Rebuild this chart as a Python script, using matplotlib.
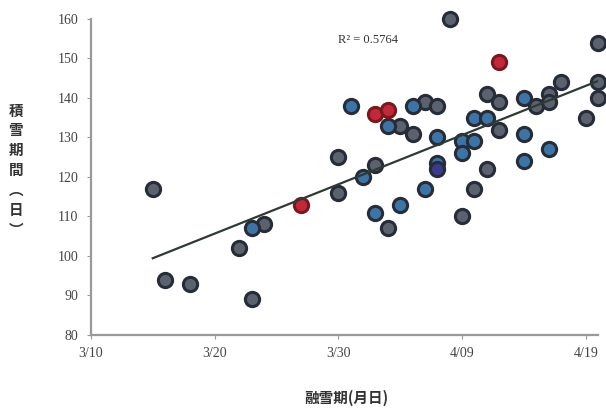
import numpy as np
import matplotlib
matplotlib.use("Agg")
import matplotlib.pyplot as plt

# days since 3/10 (melt date) and snow-cover duration (days)
dark_x = [5, 6, 8, 12, 14, 13, 20, 20, 23, 24, 25, 26, 27, 28, 29, 30, 31, 32, 32, 33, 33, 36, 37, 37, 38, 40, 41, 41, 41]
dark_y = [117, 94, 93, 102, 108, 89, 125, 116, 123, 107, 133, 131, 139, 138, 160, 110, 117, 141, 122, 132, 139, 138, 141, 139, 144, 135, 154, 144, 140]
blue_x = [13, 21, 22, 23, 24, 25, 26, 27, 28, 28, 30, 30, 31, 31, 32, 35, 35, 35, 37]
blue_y = [107, 138, 120, 111, 133, 113, 138, 117, 130, 123.5, 129, 126, 129, 135, 135, 140, 131, 124, 127]
red_x = [17, 23, 24, 33]
red_y = [113, 136, 137, 149]
purple_x = [28]
purple_y = [122]

xticks = [0, 10, 20, 30, 40]
xtick_labels = ["3/10", "3/20", "3/30", "4/09", "4/19"]
yticks = [80, 90, 100, 110, 120, 130, 140, 150, 160]
r2_text = "R² = 0.5764"

plt.rcParams['font.family'] = ['Noto Sans CJK JP', 'DejaVu Sans']

fig = plt.figure(figsize=(6.06, 4.12), dpi=100)
ax = fig.add_axes([0.150, 0.187, 0.837, 0.767])

edge = '#262c38'
ax.scatter(dark_x, dark_y, s=105, c='#5c626d', edgecolors=edge, linewidths=2.2, zorder=3, clip_on=False)
ax.scatter(blue_x, blue_y, s=105, c='#3d74a6', edgecolors=edge, linewidths=2.2, zorder=3, clip_on=False)
ax.scatter(purple_x, purple_y, s=105, c='#3b3a8c', edgecolors=edge, linewidths=2.2, zorder=3, clip_on=False)
ax.scatter(red_x, red_y, s=105, c='#c2283a', edgecolors='#7a1820', linewidths=2.2, zorder=3, clip_on=False)

# linear trendline over all points
all_x = np.array(dark_x + blue_x + red_x + purple_x, dtype=float)
all_y = np.array(dark_y + blue_y + red_y + purple_y, dtype=float)
k, b = np.polyfit(all_x, all_y, 1)
lx = np.array([all_x.min(), all_x.max()])
ax.plot(lx, k * lx + b, color='#2f3a33', lw=1.6, zorder=4)

ax.text(20, 154, r2_text, fontsize=9, family=['Liberation Serif'], color='#333333')

ax.set_xlim(0, 41)
ax.set_ylim(80, 160)
ax.set_xticks(xticks)
ax.set_xticklabels(xtick_labels)
ax.set_yticks(yticks)
for lab in ax.get_xticklabels() + ax.get_yticklabels():
    lab.set_family(['Liberation Serif'])
    lab.set_fontsize(10)
    lab.set_color('#444444')
ax.tick_params(direction='out', length=3, color='#999999', pad=6)

for s in ['top', 'right']:
    ax.spines[s].set_visible(False)
for s in ['left', 'bottom']:
    ax.spines[s].set_color('#999999')
    ax.spines[s].set_linewidth(1.6)

fig.text(0.572, 0.035, "融雪期(月日)", ha='center', va='center', fontsize=10.5,
         fontweight='bold', color='#333333')
fig.text(0.026, 0.587, "積\n雪\n期\n間\n︵\n日\n︶", ha='center', va='center', fontsize=10.5,
         fontweight='bold', color='#333333', linespacing=1.3)

fig.savefig("out.png", dpi=100)
